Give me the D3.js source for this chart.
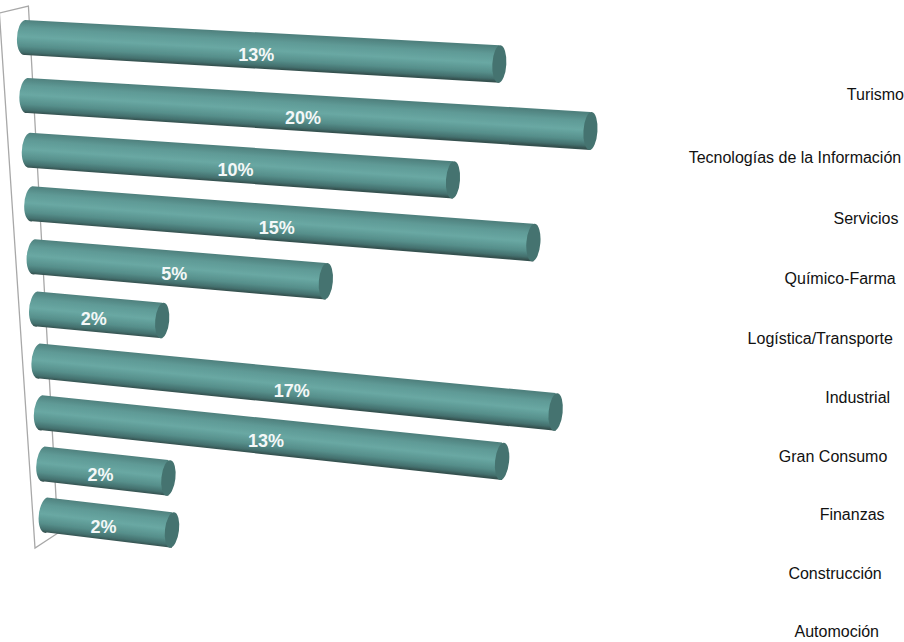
<!DOCTYPE html>
<html>
<head>
<meta charset="utf-8">
<style>
  body { margin: 0; background: #fff; }
  text { font-family: "Liberation Sans", Arial, sans-serif; }
</style>
<script src="https://cdn.jsdelivr.net/npm/d3@7"></script>
</head>
<body>
<script>
// Categories from top to bottom, as they are printed on the right
var categories = ["Turismo", "Tecnologías de la Información", "Servicios", "Químico-Farma",
    "Logística/Transporte", "Industrial", "Gran Consumo", "Finanzas", "Construcción", "Automoción"];

// Percentages printed on the bars
var shown = [13, 20, 10, 15, 5, 2, 17, 13, 2, 2];

// Bar lengths as they were drawn in the picture (same unit, they don't follow the printed numbers)
var drawn = [16.85, 20, 15.03, 17.8, 10.34, 4.44, 18.33, 16.34, 4.4, 4.44];

var width = 904, height = 642;

var svg = d3.select("body").append("svg")
    .attr("width", width)
    .attr("height", height);

var rows = d3.range(categories.length);
var last = categories.length - 1;

// Scales. The chart is a tilted 3D view so the row position is bent a little
// and the bars get steeper toward the bottom.
var lengthScale = d3.scaleLinear().domain([0, 20]).range([0, 563]);
var startX = d3.scaleLinear().domain([0, last]).range([25, 47]);
var startY = d3.scalePow().exponent(0.96).domain([0, last]).range([37.5, 515]);
var slope = d3.scaleLinear().domain([0, last]).range([0.056, 0.12]);
var radius = d3.scaleLinear().domain([0, 20]).range([17.5, 19]);

var labelEnd = d3.scaleLinear().domain([0, last]).range([904, 879]);
var labelY = d3.scalePow().exponent(0.97).domain([0, last]).range([94, 631]);

var defs = svg.append("defs");

// slight softness, the original is a scaled bitmap
defs.append("filter").attr("id", "soft")
    .append("feGaussianBlur").attr("stdDeviation", 0.45);

// Back wall of the plot, drawn before the bars
var wall = [
    [startX(-0.65) - 24, startY(0) - 24.5],
    [startX(-0.65) + 5, startY(0) - 31.5],
    [startX(last) + 11, startY(last) + 18],
    [startX(last) - 12, startY(last) + 33]
];
svg.append("path")
    .attr("d", "M" + wall.join("L") + "Z")
    .attr("fill", "none")
    .attr("stroke", "#a8a8a8")
    .attr("stroke-width", 1.3);

// One gradient per bar, running across the cylinder
rows.forEach(function(i) {
    var x1 = startX(i), y1 = startY(i), r = radius(0);
    var grad = defs.append("linearGradient")
        .attr("id", "cyl" + i)
        .attr("gradientUnits", "userSpaceOnUse")
        .attr("x1", x1 + r * slope(i)).attr("y1", y1 - r)
        .attr("x2", x1 - r * slope(i)).attr("y2", y1 + r);
    grad.append("stop").attr("offset", "0%").attr("stop-color", "#4f817e");
    grad.append("stop").attr("offset", "22%").attr("stop-color", "#5f9a96");
    grad.append("stop").attr("offset", "48%").attr("stop-color", "#69a8a3");
    grad.append("stop").attr("offset", "75%").attr("stop-color", "#568f8b");
    grad.append("stop").attr("offset", "92%").attr("stop-color", "#436f6d");
    grad.append("stop").attr("offset", "100%").attr("stop-color", "#35514f");
});

var bars = svg.selectAll("g.bar")
    .data(rows)
    .enter()
    .append("g")
    .attr("class", "bar")
    .attr("filter", "url(#soft)");

// cylinder body with the rounded left end
bars.append("path")
    .attr("fill", function(i) { return "url(#cyl" + i + ")"; })
    .attr("d", function(i) {
        var s = slope(i), len = lengthScale(drawn[i]);
        var x1 = startX(i), y1 = startY(i), r1 = radius(0);
        var x2 = x1 + len, y2 = y1 + len * s, r2 = radius(drawn[i]);
        var angle = Math.atan(s) * 180 / Math.PI;
        return "M" + x1 + "," + (y1 - r1)
            + "L" + x2 + "," + (y2 - r2)
            + "L" + x2 + "," + (y2 + r2)
            + "L" + x1 + "," + (y1 + r1)
            + "A8," + r1 + " " + angle + " 0 1 " + x1 + "," + (y1 - r1) + "Z";
    });

// right end cap
bars.append("ellipse")
    .attr("fill", "#45736f")
    .attr("rx", 7)
    .attr("ry", function(i) { return radius(drawn[i]); })
    .attr("transform", function(i) {
        var len = lengthScale(drawn[i]);
        return "translate(" + (startX(i) + len) + "," + (startY(i) + len * slope(i)) + ")"
            + " rotate(" + (Math.atan(slope(i)) * 180 / Math.PI) + ")";
    });

// value labels
svg.selectAll("text.value")
    .data(rows)
    .enter()
    .append("text")
    .attr("class", "value")
    .attr("x", function(i) { return startX(i) + lengthScale(drawn[i]) / 2 - 6; })
    .attr("y", function(i) { return startY(i) + lengthScale(drawn[i]) * slope(i) / 2 + 10.5; })
    .attr("text-anchor", "middle")
    .attr("font-size", "18px")
    .attr("font-weight", "bold")
    .attr("fill", "#f4f8f8")
    .text(function(i) { return shown[i] + "%"; });

// category labels, the axis runs down the right side at a slant
svg.selectAll("text.category")
    .data(rows)
    .enter()
    .append("text")
    .attr("class", "category")
    .attr("x", function(i) { return labelEnd(i); })
    .attr("y", function(i) { return labelY(i) + 5.5; })
    .attr("text-anchor", "end")
    .attr("font-size", "16px")
    .attr("fill", "#111")
    .text(function(i) { return categories[i]; });
</script>
</body>
</html>
